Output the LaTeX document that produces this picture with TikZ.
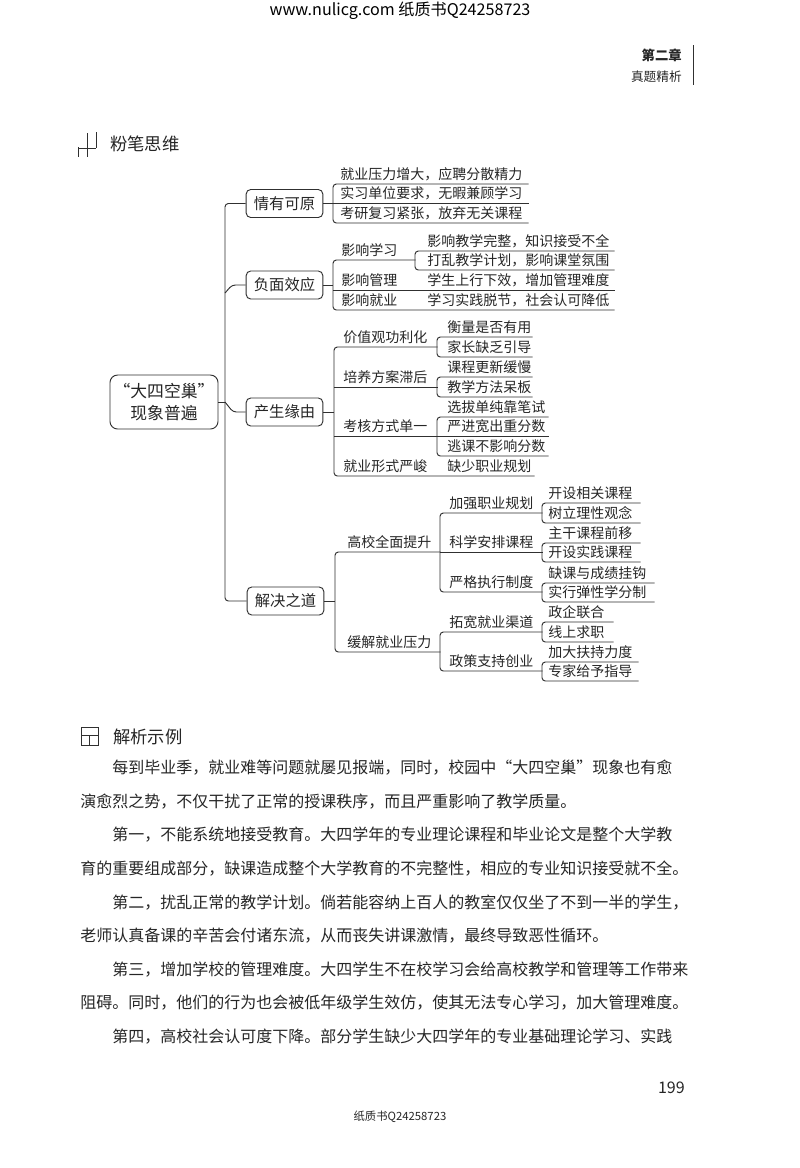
\documentclass[tikz,border=0pt]{standalone}
\usepackage{fontspec}
\usepackage{xcolor}
\usepackage{tikz}
\usetikzlibrary{arrows.meta,positioning,calc}
\setmainfont{Noto Sans CJK SC}
\definecolor{Ink}{HTML}{262626}
\definecolor{Rule}{HTML}{303030}
\newdimen\rowunit
\rowunit=0.75pt
\newcommand{\rowbox}[6]{\node[rowbox,text width=#3*0.75pt] (#1) at (#2,#5) {\hspace*{#4\rowunit}#6};}
\begin{document}
\begin{tikzpicture}[
    x=0.75pt,y=-0.75pt,
    rootbox/.style={rectangle,rounded corners=2mm,draw=Rule,line width=0.7pt,minimum width=81pt,minimum height=40.5pt,align=center,font=\fontsize{12.6}{16}\selectfont,text=Ink,inner sep=0pt},
    topicbox/.style={rectangle,rounded corners=1.2mm,draw=Rule,line width=0.7pt,minimum width=57.5pt,minimum height=21pt,align=center,font=\fontsize{11.5}{14}\selectfont,text=Ink,inner sep=0pt},
    rowbox/.style={rectangle,anchor=south west,minimum height=14.5pt,inner sep=0pt,align=left,font=\fontsize{10.5}{13}\selectfont,text=Ink},
    link/.style={draw=Rule,line width=0.7pt,rounded corners=2.5pt},
    bodyline/.style={anchor=west,inner sep=0pt,font=\fontsize{12}{14}\selectfont,text=Ink},
    headtitle/.style={anchor=west,inner sep=0pt,font=\fontsize{13}{15}\selectfont,text=Ink}
]
\useasboundingbox (0,0) rectangle (800,1168);
\fill[white] (0,0) rectangle (800,1168);
% page head
\node[inner sep=0pt,font=\fontsize{12.1}{14}\selectfont,text=black] (site) at (400,11) {www.nulicg.com 纸质书Q24258723};
\node[anchor=east,inner sep=0pt,font=\fontsize{10}{12}\selectfont\bfseries,text=Ink] (chap) at (682,55) {第二章};
\node[anchor=east,inner sep=0pt,font=\fontsize{9.5}{12}\selectfont,text=Ink] (sect) at (682,77) {真题精析};
\draw[Rule,line width=0.7pt] (693,45) -- (693,85);
\node[headtitle] (think) at (110,144) {粉笔思维};
\draw[Rule,line width=0.5pt] (78,147) -- (78,157) (78,148) -- (96,148) (87,133) -- (87,157) (96,132) -- (96,148);
% mind map
\node[rootbox,align=center] (root) at (164,402) {“大四空巢”\\现象普遍};
\node[topicbox] (qing) at (284.5,203.5) {情有可原};
\node[topicbox] (fu) at (284.5,285) {负面效应};
\node[topicbox] (chan) at (284.5,412) {产生缘由};
\node[topicbox] (jie) at (285.5,601) {解决之道};
\coordinate (trunk) at (225,402);
\draw[link] (qing.west) -- (225,203.5) -- (225,601) -- (jie.west);
\draw[link] (root.east) -- (trunk);
\draw[link] (trunk) -- (233,412) -- (chan.west);
\draw[link] (225,293) -- (232,285) -- (fu.west);
% first branch
\rowbox{q1}{333}{195}{7}{184}{就业压力增大，应聘分散精力}
\rowbox{q2}{333}{195}{7}{203.5}{实习单位要求，无暇兼顾学习}
\rowbox{q3}{333}{195}{7}{223}{考研复习紧张，放弃无关课程}
\draw[link] (q1.south east) -- (q1.south west) -- (q3.south west) -- (q3.south east);
\draw[link] (qing.east) -- (q2.south west) -- (q2.south east);
% second branch
\rowbox{f1}{333}{82}{8}{260}{影响学习}
\rowbox{f2}{333}{281}{8}{290}{影响管理\hspace{22.5pt}学生上行下效，增加管理难度}
\rowbox{f3}{333}{281}{8}{310}{影响就业\hspace{22.5pt}学习实践脱节，社会认可降低}
\rowbox{f11}{415}{199}{12}{251}{影响教学完整，知识接受不全}
\rowbox{f12}{415}{199}{12}{270}{打乱教学计划，影响课堂氛围}
\draw[link] (f1.south east) -- (f1.south west) -- (f3.south west) -- (f3.south east);
\draw[link] (fu.east) -- (333,285);
\draw[link] (f2.south west) -- (f2.south east);
\draw[link] (f11.south east) -- (f11.south west) -- (f12.south west) -- (f12.south east);
% third branch
\rowbox{c1}{334}{103}{9}{347}{价值观功利化}
\rowbox{c2}{334}{103}{9}{387}{培养方案滞后}
\rowbox{c3}{334}{103}{9}{436}{考核方式单一}
\rowbox{c4}{334}{200}{9}{476}{就业形式严峻\hspace{15pt}缺少职业规划}
\rowbox{c11}{437}{95}{10}{337}{衡量是否有用}
\rowbox{c12}{437}{95}{10}{357}{家长缺乏引导}
\rowbox{c21}{437}{95}{10}{377}{课程更新缓慢}
\rowbox{c22}{437}{95}{10}{397}{教学方法呆板}
\rowbox{c31}{437}{111}{10}{417}{选拔单纯靠笔试}
\rowbox{c32}{437}{111}{10}{436}{严进宽出重分数}
\rowbox{c33}{437}{111}{10}{456}{逃课不影响分数}
\draw[link] (c1.south east) -- (c1.south west) -- (c4.south west) -- (c4.south east);
\draw[link] (chan.east) -- (334,412);
\draw[link] (c2.south west) -- (c2.south east);
\draw[link] (c3.south west) -- (c3.south east);
\draw[link] (c11.south east) -- (c11.south west) -- (c12.south west) -- (c12.south east);
\draw[link] (c21.south east) -- (c21.south west) -- (c22.south west) -- (c22.south east);
\draw[link] (c31.south east) -- (c31.south west) -- (c33.south west) -- (c33.south east);
\draw[link] (c32.south west) -- (c32.south east);
% fourth branch
\rowbox{j1}{335}{105}{12}{552}{高校全面提升}
\rowbox{j2}{335}{105}{12}{652}{缓解就业压力}
\rowbox{j11}{440}{102}{9}{513}{加强职业规划}
\rowbox{j12}{440}{102}{9}{552}{科学安排课程}
\rowbox{j13}{440}{102}{9}{592}{严格执行制度}
\rowbox{j21}{440}{102}{9}{632}{拓宽就业渠道}
\rowbox{j22}{440}{102}{9}{671}{政策支持创业}
\rowbox{k1}{542}{98}{6}{503}{开设相关课程}
\rowbox{k2}{542}{98}{6}{523}{树立理性观念}
\rowbox{k3}{542}{98}{6}{543}{主干课程前移}
\rowbox{k4}{542}{98}{6}{562}{开设实践课程}
\rowbox{k5}{542}{112}{6}{583}{缺课与成绩挂钩}
\rowbox{k6}{542}{112}{6}{602}{实行弹性学分制}
\rowbox{k7}{542}{71}{6}{622}{政企联合}
\rowbox{k8}{542}{71}{6}{642}{线上求职}
\rowbox{k9}{542}{96}{6}{662}{加大扶持力度}
\rowbox{k10}{542}{96}{6}{681}{专家给予指导}
\draw[link] (j1.south east) -- (j1.south west) -- (j2.south west) -- (j2.south east);
\draw[link] (jie.east) -- (335,601);
\draw[link] (j11.south east) -- (j11.south west) -- (j13.south west) -- (j13.south east);
\draw[link] (j12.south west) -- (j12.south east);
\draw[link] (j21.south east) -- (j21.south west) -- (j22.south west) -- (j22.south east);
\draw[link] (k1.south east) -- (k1.south west) -- (k2.south west) -- (k2.south east);
\draw[link] (k3.south east) -- (k3.south west) -- (k4.south west) -- (k4.south east);
\draw[link] (k5.south east) -- (k5.south west) -- (k6.south west) -- (k6.south east);
\draw[link] (k7.south east) -- (k7.south west) -- (k8.south west) -- (k8.south east);
\draw[link] (k9.south east) -- (k9.south west) -- (k10.south west) -- (k10.south east);
% analysis text
\node[headtitle] (case) at (113,737) {解析示例};
\draw[Rule,line width=0.5pt] (81,727) rectangle (98,745) (81,735) -- (98,735) (89,735) -- (89,745);
\foreach \nm/\xx/\yy/\txt in {
  a1/112/768/每到毕业季，就业难等问题就屡见报端，同时，校园中“大四空巢”现象也有愈,
  a2/80/801.5/演愈烈之势，不仅干扰了正常的授课秩序，而且严重影响了教学质量。,
  a3/112/835/第一，不能系统地接受教育。大四学年的专业理论课程和毕业论文是整个大学教,
  a4/80/869/育的重要组成部分，缺课造成整个大学教育的不完整性，相应的专业知识接受就不全。,
  a5/112/902.5/第二，扰乱正常的教学计划。倘若能容纳上百人的教室仅仅坐了不到一半的学生，,
  a6/80/936/老师认真备课的辛苦会付诸东流，从而丧失讲课激情，最终导致恶性循环。,
  a7/112/969.5/第三，增加学校的管理难度。大四学生不在校学习会给高校教学和管理等工作带来,
  a8/80/1003/阻碍。同时，他们的行为也会被低年级学生效仿，使其无法专心学习，加大管理难度。,
  a9/112/1036.5/第四，高校社会认可度下降。部分学生缺少大四学年的专业基础理论学习、实践}
  \node[bodyline] (\nm) at (\xx,\yy) {\txt};
\node[anchor=east,inner sep=0pt,font=\fontsize{12}{14}\selectfont,text=Ink] (pagenum) at (685,1088) {199};
\node[inner sep=0pt,font=\fontsize{8.5}{10}\selectfont,text=Ink] (foot) at (400,1117) {纸质书Q24258723};
\end{tikzpicture}
\end{document}
